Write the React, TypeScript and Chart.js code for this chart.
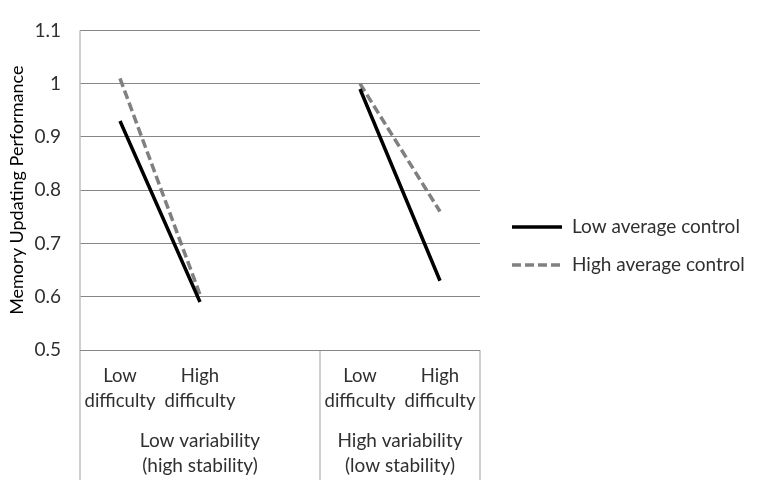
import React, { useEffect, useRef } from "react";
import { Chart, registerables } from "chart.js";

Chart.register(...registerables);

const categories: (string | string[])[] = [
  ["Low", "difficulty"],
  ["High", "difficulty"],
  "",
  ["Low", "difficulty"],
  ["High", "difficulty"],
];
const groupLabels: string[][] = [
  ["Low variability", "(high stability)"],
  ["High variability", "(low stability)"],
];
const groupSpans: number[][] = [
  [0, 2],
  [3, 4],
];
const lowAverageControl: (number | null)[] = [0.93, 0.59, null, 0.99, 0.63];
const highAverageControl: (number | null)[] = [1.01, 0.604, null, 1.0, 0.76];
const seriesNames = ["Low average control", "High average control"];
const yTitle = "Memory Updating Performance";

const FONT = "Lato, 'Open Sans', sans-serif";
const TEXT = "#303030";

const decorPlugin = {
  id: "decor",
  afterDraw(chart: any) {
    const { ctx, chartArea, scales } = chart;
    const x = scales.x;
    const bottomEnd = 480;
    ctx.save();
    ctx.strokeStyle = "#bfbfbf";
    ctx.lineWidth = 1.5;
    ctx.beginPath();
    ctx.moveTo(chartArea.left, chartArea.top);
    ctx.lineTo(chartArea.left, bottomEnd);
    ctx.stroke();
    const bounds: number[] = [];
    groupSpans.forEach((g, i) => {
      const start = i === 0 ? chartArea.left : (x.getPixelForValue(g[0] - 1) + x.getPixelForValue(g[0])) / 2;
      bounds.push(start);
    });
    bounds.push(chartArea.right);
    bounds.slice(1).forEach((bx) => {
      ctx.beginPath();
      ctx.moveTo(bx, chartArea.bottom);
      ctx.lineTo(bx, bottomEnd);
      ctx.stroke();
    });
    ctx.strokeStyle = "#868686";
    ctx.lineWidth = 1;
    ctx.beginPath();
    ctx.moveTo(chartArea.left, chartArea.bottom + 0.5);
    ctx.lineTo(chartArea.right, chartArea.bottom + 0.5);
    ctx.stroke();
    ctx.fillStyle = TEXT;
    ctx.font = `19px ${FONT}`;
    ctx.textAlign = "center";
    ctx.textBaseline = "middle";
    groupLabels.forEach((lines, i) => {
      const cx = (bounds[i] + bounds[i + 1]) / 2;
      lines.forEach((t, j) => ctx.fillText(t, cx, 441 + j * 25));
    });
    const items = [
      { name: seriesNames[0], color: "#000000", dash: [] as number[] },
      { name: seriesNames[1], color: "#808080", dash: [9, 4] },
    ];
    items.forEach((it, i) => {
      const y = 227 + i * 38;
      ctx.strokeStyle = it.color;
      ctx.lineWidth = 3.5;
      ctx.setLineDash(it.dash);
      ctx.beginPath();
      ctx.moveTo(512, y);
      ctx.lineTo(562, y);
      ctx.stroke();
      ctx.setLineDash([]);
      ctx.fillStyle = TEXT;
      ctx.textAlign = "left";
      ctx.fillText(it.name, 572, y);
    });
    ctx.restore();
  },
};

export default function App() {
  const ref = useRef<HTMLCanvasElement>(null);
  useEffect(() => {
    if (!ref.current) return;
    const chart = new Chart(ref.current, {
      type: "line",
      data: {
        labels: categories,
        datasets: [
          {
            label: seriesNames[0],
            data: lowAverageControl,
            borderColor: "#000000",
            borderWidth: 3.5,
            pointRadius: 0,
            spanGaps: false,
          },
          {
            label: seriesNames[1],
            data: highAverageControl,
            borderColor: "#808080",
            borderWidth: 3.5,
            borderDash: [9, 4],
            pointRadius: 0,
            spanGaps: false,
          },
        ],
      },
      options: {
        responsive: false,
        animation: false,
        devicePixelRatio: 1,
        layout: { padding: { top: 22, right: 278, left: 0, bottom: 0 } },
        plugins: { legend: { display: false }, tooltip: { enabled: false } },
        scales: {
          x: {
            offset: true,
            grid: { display: false, drawTicks: false },
            border: { display: false },
            ticks: {
              color: TEXT,
              font: { family: FONT, size: 18.5, lineHeight: 1.35 },
              padding: 14,
              maxRotation: 0,
              autoSkip: false,
            },
            afterFit: (s: any) => {
              s.height = 152;
            },
          },
          y: {
            min: 0.5,
            max: 1.1,
            grid: { color: "#868686", lineWidth: 1, drawTicks: false },
            border: { display: false },
            ticks: {
              stepSize: 0.1,
              color: TEXT,
              font: { family: FONT, size: 19 },
              padding: 19,
              callback: (v: any) => String(Number(Number(v).toFixed(1))),
            },
            title: {
              display: true,
              text: yTitle,
              color: "#000000",
              font: { family: FONT, size: 18 },
              padding: { top: 6, bottom: 0 },
            },
            afterFit: (s: any) => {
              s.width = 80;
            },
          },
        },
      },
      plugins: [decorPlugin],
    });
    return () => chart.destroy();
  }, []);
  return (
    <div style={{ position: "absolute", left: 0, top: 0, width: 758, height: 502, background: "#fff" }}>
      <canvas ref={ref} width={758} height={502} />
    </div>
  );
}
